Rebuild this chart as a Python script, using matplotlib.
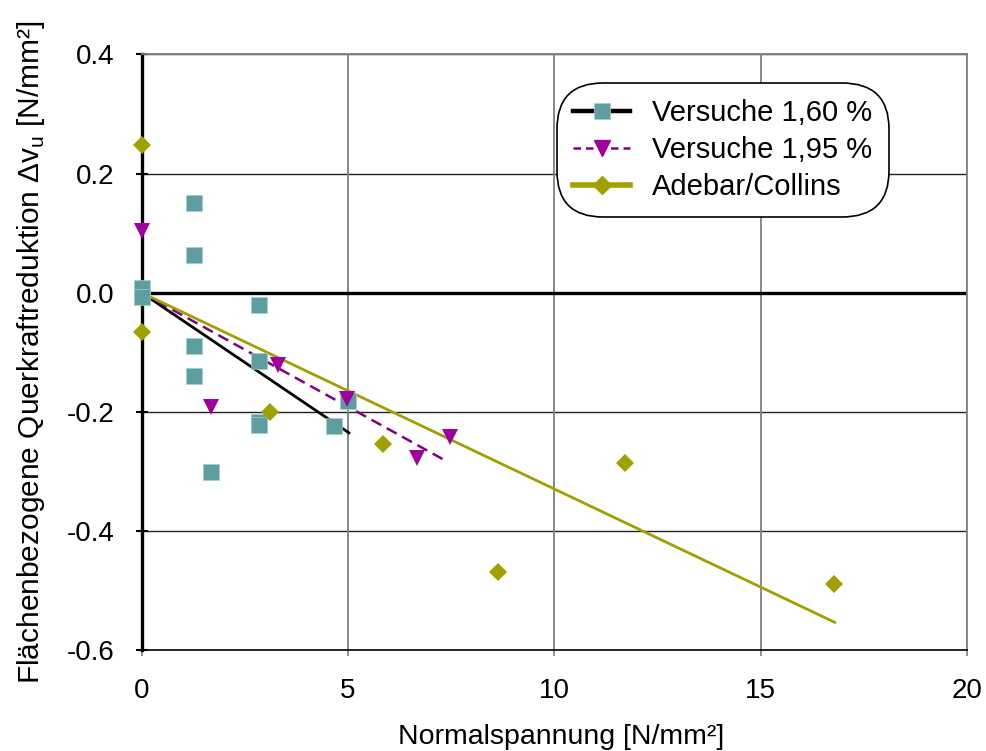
import matplotlib
matplotlib.use("Agg")
import matplotlib.pyplot as plt
from matplotlib.lines import Line2D

plt.rcParams['font.family'] = ['Liberation Sans', 'DejaVu Sans']
plt.rcParams['mathtext.fontset'] = 'custom'
plt.rcParams['mathtext.rm'] = 'Liberation Sans'
plt.rcParams['axes.unicode_minus'] = False

# Versuche 1,60 %
sq_x = [0, 0, 1.27, 1.27, 1.27, 1.27, 1.67, 2.83, 2.85, 2.83, 2.85, 4.66, 5.0]
sq_y = [0.008, -0.007, 0.151, 0.064, -0.090, -0.139, -0.301, -0.021, -0.114, -0.217, -0.222, -0.224, -0.181]
fit160_x = [0, 5.02]
fit160_y = [0, -0.235]

# Versuche 1,95 %
tri_x = [0, 1.67, 3.31, 4.98, 6.66, 7.46]
tri_y = [0.104, -0.192, -0.121, -0.179, -0.278, -0.242]
fit195_x = [0, 7.42]
fit195_y = [0, -0.284]

# Adebar/Collins
dia_x = [0, 0, 3.12, 5.85, 8.62, 11.72, 16.76]
dia_y = [0.248, -0.066, -0.200, -0.254, -0.468, -0.285, -0.488]
fitac_x = [0, 16.79]
fitac_y = [0, -0.553]

teal = '#5f9ea0'
magenta = '#a000a0'
purple = '#800080'
olive = '#a0a000'

fig = plt.figure(figsize=(9.86, 7.51), dpi=100)
ax = fig.add_axes([0.1437, 0.134, 0.981 - 0.1437, 0.9277 - 0.134])

ax.set_xlim(0, 20)
ax.set_ylim(-0.6, 0.4)
ax.set_xticks([0, 5, 10, 15, 20])
ax.set_yticks([-0.6, -0.4, -0.2, 0.0, 0.2, 0.4])
ax.yaxis.set_major_formatter(matplotlib.ticker.FormatStrFormatter('%.1f'))

# grid
for yv in [-0.4, -0.2, 0.2, 0.4]:
    ax.axhline(yv, color='#222222', lw=1.0, zorder=0)
for xv in [5, 10, 15, 20]:
    ax.axvline(xv, color='#7f7f7f', lw=1.3, zorder=0)
ax.axhline(0, color='black', lw=2.4, zorder=1)

for s in ['top', 'right']:
    ax.spines[s].set_color('#7f7f7f')
    ax.spines[s].set_linewidth(1.3)
ax.spines['bottom'].set_color('black')
ax.spines['bottom'].set_linewidth(1.2)
ax.spines['left'].set_color('black')
ax.spines['left'].set_linewidth(2.4)

ax.tick_params(axis='y', direction='inout', length=9, width=1.5, labelsize=20, pad=15)
ax.tick_params(axis='x', direction='out', length=4, width=1.2, colors='#7f7f7f',
               labelcolor='black', labelsize=20, pad=16)

# fit lines
ax.plot(fit160_x, fit160_y, color='black', lw=2.0, zorder=3)
ax.plot(fit195_x, fit195_y, color=purple, lw=1.8, ls=(0, (4.5, 2.5)), zorder=3)
ax.plot(fitac_x, fitac_y, color=olive, lw=2.0, zorder=3)

# points
ax.plot(sq_x, sq_y, ls='none', marker='s', ms=11, color=teal, mec='#9fcfcf', mew=0.5, zorder=4, clip_on=False)
ax.plot(tri_x, tri_y, ls='none', marker='v', ms=11, color=magenta, mew=0, zorder=5, clip_on=False)
ax.plot(dia_x, dia_y, ls='none', marker='D', ms=9.5, color=olive, mew=0, zorder=5, clip_on=False)

handles = [
    Line2D([], [], color='black', lw=3.2, marker='s', ms=11, mfc=teal, mec='#9fcfcf', mew=0.5),
    Line2D([], [], color=purple, lw=1.8, ls=(0, (3, 2)), marker='v', ms=11, mfc=magenta, mec=magenta),
    Line2D([], [], color=olive, lw=4, marker='D', ms=9, mfc=olive, mec=olive),
]
labels = ['Versuche 1,60 %', 'Versuche 1,95 %', 'Adebar/Collins']
leg = ax.legend(handles, labels, loc='upper left', bbox_to_anchor=(0.508, 0.945),
                fontsize=21, frameon=True, fancybox=True, framealpha=1,
                edgecolor='black', handlelength=1.95, handletextpad=0.75,
                borderpad=0.42, labelspacing=0.3, borderaxespad=0)
leg.get_frame().set_linewidth(1.2)
leg.get_frame().set_boxstyle('round', pad=0.15, rounding_size=1.6)
leg.set_zorder(10)

ax.set_xlabel('Normalspannung [N/mm²]', fontsize=20.5)
ax.xaxis.set_label_coords(0.508, -0.124)
ax.set_ylabel(r'Flächenbezogene Querkraftreduktion Δv$_\mathregular{u}$ [N/mm²]', fontsize=21.5, labelpad=14)

fig.savefig('out.png', dpi=100)
